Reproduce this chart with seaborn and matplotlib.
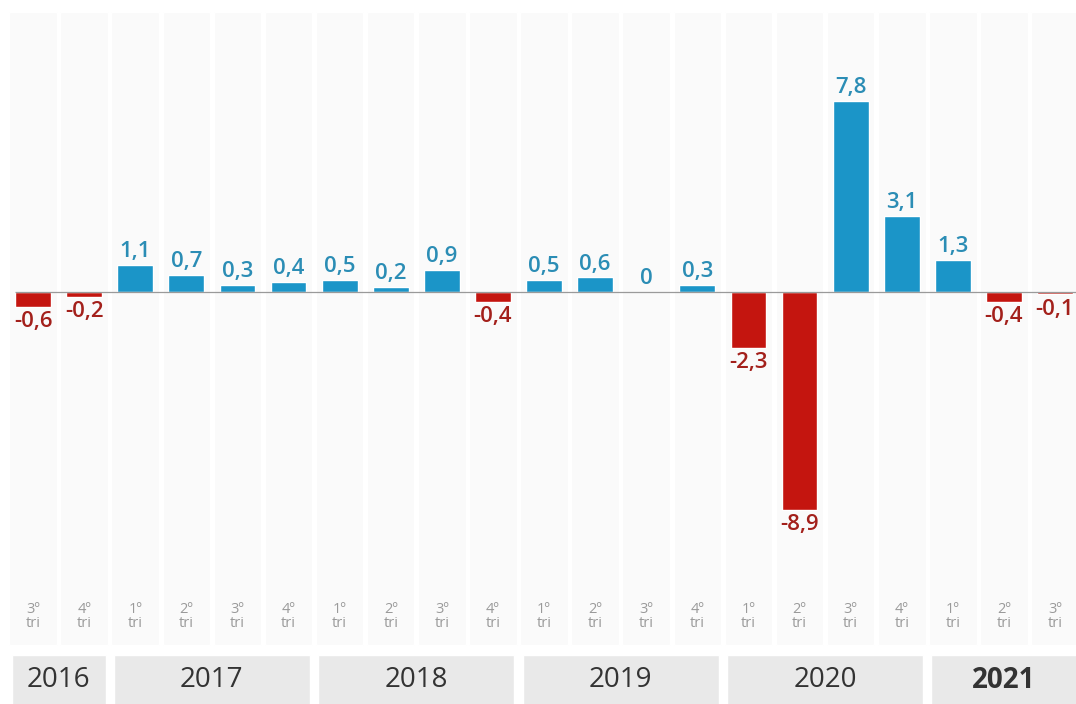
import matplotlib
matplotlib.use("Agg")
import matplotlib.pyplot as plt
import seaborn as sns
import pandas as pd

quarters = ["3º", "4º", "1º", "2º", "3º", "4º", "1º", "2º", "3º", "4º",
            "1º", "2º", "3º", "4º", "1º", "2º", "3º", "4º", "1º", "2º", "3º"]
values = [-0.6, -0.2, 1.1, 0.7, 0.3, 0.4, 0.5, 0.2, 0.9, -0.4,
          0.5, 0.6, 0.0, 0.3, -2.3, -8.9, 7.8, 3.1, 1.3, -0.4, -0.1]
years = ["2016", "2017", "2018", "2019", "2020", "2021"]
year_counts = [2, 4, 4, 4, 4, 3]

BLUE = "#1b95c8"
RED = "#c4150f"
BLUE_TXT = "#2b8db5"
RED_TXT = "#a3201b"

sns.set_theme(style="white")
plt.rcParams["font.family"] = ["Open Sans", "DejaVu Sans"]

df = pd.DataFrame({
    "pos": [str(i) for i in range(len(values))],
    "value": values,
    "sign": ["pos" if v >= 0 else "neg" for v in values],
})

fig = plt.figure(figsize=(10.76, 7.04), dpi=100)
ax = fig.add_axes([0, 0, 1, 1])

# column backgrounds
n = len(values)
ax.bar(range(n), [11.43 + 14.4] * n, bottom=-14.4, width=0.93,
       color="#fafafa", zorder=0)

sns.barplot(data=df, x="pos", y="value", hue="sign",
            palette={"pos": BLUE, "neg": RED}, width=0.7, dodge=False,
            legend=False, ax=ax, zorder=2, saturation=1)

ax.hlines(0, -0.35, n, color="#9a9a9a", lw=0.9, zorder=3)

for i, v in enumerate(values):
    lab = f"{v:.1f}".replace(".", ",") if v != 0 else "0"
    if v >= 0:
        ax.annotate(lab, (i, v), xytext=(0, 2), textcoords="offset points",
                    ha="center", va="bottom", fontsize=16, fontweight="semibold",
                    color=BLUE_TXT, zorder=4)
    else:
        ax.annotate(lab, (i, v), xytext=(0, -3), textcoords="offset points",
                    ha="center", va="top", fontsize=16, fontweight="semibold",
                    color=RED_TXT, zorder=4)
    ax.text(i, -13.25, f"{quarters[i]}\ntri", ha="center", va="center",
            fontsize=10.5, color="#9a9a9a", linespacing=0.9, zorder=4)

start = 0
for k, (yr, c) in enumerate(zip(years, year_counts)):
    left = start - 0.5 + 0.08
    right = start + c - 0.5 - 0.08
    ax.bar((left + right) / 2, 3.0, bottom=-17.8, width=right - left,
           color="#e9e9e9", zorder=1)
    ax.text((left + right) / 2, -15.85, yr, ha="center", va="center",
            fontsize=20, color="#333333",
            fontweight="bold" if yr == "2021" else "normal", zorder=4)
    start += c

ax.set_xlim(-0.646, 20.41)
ax.set_ylim(-16.82, 11.92)
ax.axis("off")

fig.savefig("out.png", dpi=100, facecolor="white")
